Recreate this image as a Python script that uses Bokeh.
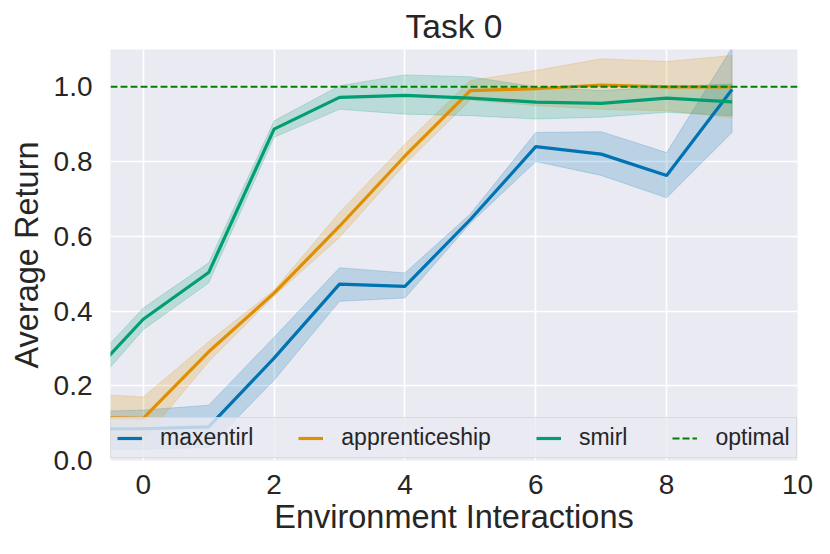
from bokeh.plotting import figure
from bokeh.models import Range1d, Legend, LegendItem, FixedTicker, NumeralTickFormatter
from bokeh.embed import file_html
from bokeh.resources import INLINE

# ---- data ----
steps = [-1, 0, 1, 2, 3, 4, 5, 6, 7, 8, 9]

maxentirl_mean = [0.085, 0.085, 0.09, 0.274, 0.472, 0.466, 0.645, 0.84, 0.82, 0.763, 0.993]
maxentirl_lo = [0.03, 0.03, 0.035, 0.215, 0.426, 0.435, 0.635, 0.80, 0.763, 0.703, 0.878]
maxentirl_hi = [0.13, 0.135, 0.148, 0.33, 0.516, 0.502, 0.66, 0.878, 0.88, 0.824, 1.105]

apprenticeship_mean = [0.115, 0.113, 0.291, 0.448, 0.627, 0.815, 0.99, 0.995, 1.005, 1.0, 1.0]
apprenticeship_lo = [0.055, 0.055, 0.264, 0.44, 0.597, 0.793, 0.965, 0.95, 0.94, 0.936, 0.918]
apprenticeship_hi = [0.18, 0.17, 0.318, 0.456, 0.664, 0.847, 1.017, 1.044, 1.075, 1.068, 1.084]

smirl_mean = [0.19, 0.378, 0.503, 0.887, 0.972, 0.977, 0.97, 0.959, 0.956, 0.97, 0.96]
smirl_lo = [0.15, 0.35, 0.475, 0.865, 0.94, 0.927, 0.923, 0.914, 0.919, 0.932, 0.923]
smirl_hi = [0.22, 0.408, 0.529, 0.909, 1.003, 1.032, 1.027, 1.0, 0.99, 1.0, 1.008]

optimal = 1.0
xlim = [-0.5, 10]
ylim = [0.0, 1.1]
x_ticks = [0, 2, 4, 6, 8, 10]
y_ticks = [0.0, 0.2, 0.4, 0.6, 0.8, 1.0]

series = [
    ("maxentirl", maxentirl_mean, maxentirl_lo, maxentirl_hi, "#0173b2"),
    ("apprenticeship", apprenticeship_mean, apprenticeship_lo, apprenticeship_hi, "#de8f05"),
    ("smirl", smirl_mean, smirl_lo, smirl_hi, "#029e73"),
]

FONT = "Liberation Sans"
TXT = "#262626"

p = figure(width=814, height=538,
           x_range=Range1d(*xlim), y_range=Range1d(*ylim),
           output_backend="svg", toolbar_location=None,
           min_border_left=110, min_border_right=17, min_border_top=48, min_border_bottom=78,
           background_fill_color="#eaeaf2", border_fill_color="white",
           outline_line_color=None)

p.title.text = "Task 0"
p.title.align = "center"
p.title.text_font = FONT
p.title.text_font_size = "33.5px"
p.title.text_font_style = "normal"
p.title.text_color = TXT

p.xaxis.axis_label = "Environment Interactions"
p.yaxis.axis_label = "Average Return"
p.xaxis.ticker = FixedTicker(ticks=x_ticks)
p.yaxis.ticker = FixedTicker(ticks=y_ticks)
p.yaxis.formatter = NumeralTickFormatter(format="0.0")
for ax in (p.xaxis, p.yaxis):
    ax.axis_line_color = None
    ax.major_tick_line_color = None
    ax.minor_tick_line_color = None
    ax.major_label_text_font = FONT
    ax.major_label_text_font_size = "28px"
    ax.major_label_text_color = TXT
    ax.axis_label_text_font = FONT
    ax.axis_label_text_font_size = "32.5px"
    ax.axis_label_text_font_style = "normal"
    ax.axis_label_text_color = TXT
p.yaxis.major_label_standoff = 12
p.xaxis.major_label_standoff = 8
p.yaxis.axis_label_standoff = 6
p.xaxis.axis_label_standoff = 2

p.grid.grid_line_color = "white"
p.grid.grid_line_width = 1.6

items = []
for name, mean, lo, hi, color in series:
    px = steps + steps[::-1]
    py = hi + lo[::-1]
    p.patch(px, py, fill_color=color, fill_alpha=0.2,
            line_color=color, line_alpha=0.2, line_width=1)
for name, mean, lo, hi, color in series:
    r = p.line(steps, mean, line_color=color, line_width=3.2)
    items.append(LegendItem(label=name, renderers=[r]))

r_opt = p.line(xlim, [optimal, optimal], line_color="#008000", line_width=2, line_dash="7 3")
items.append(LegendItem(label="optimal", renderers=[r_opt]))

legend = Legend(items=items, orientation="horizontal", location=(0, 2),
                label_text_font=FONT, label_text_font_size="23px", label_text_color=TXT,
                glyph_width=25, glyph_height=20, label_height=20, label_standoff=18, spacing=45,
                padding=6, margin=0,
                background_fill_color="#eaeaf2", background_fill_alpha=0.8,
                border_line_color="#cccccc", border_line_width=1)
p.add_layout(legend)

open("out.html", "w").write(file_html(p, INLINE))
